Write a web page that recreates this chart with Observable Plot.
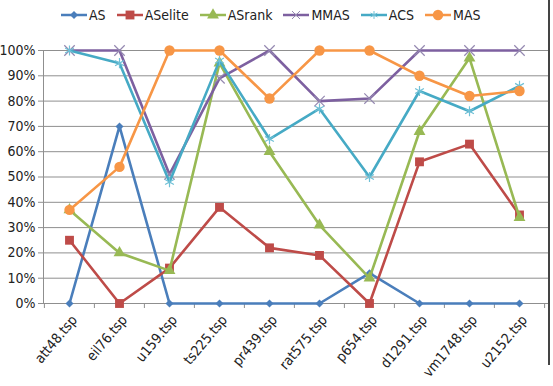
<!DOCTYPE html>
<html><head><meta charset="utf-8">
<script src="https://cdn.jsdelivr.net/npm/d3@7"></script>
<script src="https://cdn.jsdelivr.net/npm/@observablehq/plot@0.6"></script>
<style>
body{margin:0;background:#fff;}
#wrap{position:relative;width:553px;height:386px;overflow:hidden;background:#fff;font-family:"Liberation Sans Narrow","Arial Narrow","DejaVu Sans Condensed",sans-serif;}
#legend{height:30px;display:flex;align-items:center;padding-left:61px;font-size:14px;color:#222;box-sizing:border-box;}
.item{display:flex;align-items:center;margin-right:11px;}
.item svg{margin-right:2px;}
#border{position:absolute;left:548px;top:0;width:2px;height:365px;background:#444;}
</style></head><body>
<div id="wrap"><div id="legend"></div><div id="chart"></div><div id="border"></div></div>
<script>
const categories = ["att48.tsp","eil76.tsp","u159.tsp","ts225.tsp","pr439.tsp","rat575.tsp","p654.tsp","d1291.tsp","vm1748.tsp","u2152.tsp"];
const AS      = [0, 70, 0, 0, 0, 0, 12, 0, 0, 0];
const ASelite = [25, 0, 14, 38, 22, 19, 0, 56, 63, 35];
const ASrank  = [37, 20, 13, 95, 60, 31, 10, 68, 97, 34];
const MMAS    = [100, 100, 51, 89, 100, 80, 81, 100, 100, 100];
const ACS     = [100, 95, 48, 96, 65, 77, 50, 84, 76, 86];
const MAS     = [37, 54, 100, 100, 81, 100, 100, 90, 82, 84];
const seriesNames = ["AS","ASelite","ASrank","MMAS","ACS","MAS"];
const seriesValues = [AS, ASelite, ASrank, MMAS, ACS, MAS];
const lineColors = ["#4A7EBB","#BE4B48","#98B954","#7D60A0","#46AAC5","#F79646"];
const markColors = ["#4A7EBB","#BE4B48","#98B954","#9488B0","#6FC0D6","#F79646"];
const symbols = ["diamond2","square","triangle","times","asterisk","circle"];
const symbolR = [3.6, 5, 4.4, 4.8, 4.8, 5.2];
const strokeSymbols = ["times","asterisk"];
const yTicks = [0,0.1,0.2,0.3,0.4,0.5,0.6,0.7,0.8,0.9,1];

const W = 553, H = 356, mL = 43, mR = 8, mT = 20, mB = 83;
const half = (W - mL - mR) / categories.length / 2;

// legend
const legend = document.getElementById("legend");
seriesNames.forEach((name, j) => {
  const item = document.createElement("div");
  item.className = "item";
  const sym = d3.symbol(d3["symbol" + {diamond2:"Diamond2",square:"Square",triangle:"Triangle",times:"Times",asterisk:"Asterisk",circle:"Circle"}[symbols[j]]], Math.PI * symbolR[j] * symbolR[j] * (strokeSymbols.includes(symbols[j]) ? 0.6 : 1))();
  const stroke = strokeSymbols.includes(symbols[j]);
  item.innerHTML = `<svg width="26" height="14"><line x1="0" x2="26" y1="7" y2="7" stroke="${lineColors[j]}" stroke-width="2.5"/><path d="${sym}" transform="translate(13,7)" fill="${stroke ? "none" : markColors[j]}" stroke="${stroke ? markColors[j] : "none"}" stroke-width="1"/></svg><span>${name}</span>`;
  legend.appendChild(item);
});

const rows = [];
seriesNames.forEach((s, j) => categories.forEach((c, i) => rows.push({series: s, cat: c, value: seriesValues[j][i] / 100})));

const seriesMarks = seriesNames.flatMap((s, j) => {
  const d = rows.filter(r => r.series === s);
  const stroke = strokeSymbols.includes(symbols[j]);
  return [
    Plot.line(d, {x: "cat", y: "value", stroke: lineColors[j], strokeWidth: 2.6}),
    Plot.dot(d, {x: "cat", y: "value", symbol: () => symbols[j], r: symbolR[j],
      fill: stroke ? "none" : markColors[j], stroke: stroke ? markColors[j] : "none", strokeWidth: 1.2})
  ];
});

const chart = Plot.plot({
  width: W, height: H, marginLeft: mL, marginRight: mR, marginTop: mT, marginBottom: mB,
  style: {fontFamily: '"Liberation Sans Narrow","Arial Narrow","DejaVu Sans Condensed",sans-serif', fontSize: "14px", color: "#222", background: "#fff"},
  x: {type: "band", domain: categories, padding: 0, label: null},
  y: {domain: [0, 1], label: null},
  symbol: {type: "identity"},
  marks: [
    Plot.ruleY(yTicks, {stroke: "#8f8f8f", strokeWidth: 1, insetRight: -3}),
    Plot.frame({anchor: "left", stroke: "#8f8f8f"}),
    Plot.axisY({ticks: yTicks, tickFormat: d3.format(".0%"), tickSize: 5, tickPadding: 3, stroke: "#8f8f8f", label: null}),
    Plot.axisX({ticks: categories, tickSize: 5, tickFormat: () => "", dx: -half, stroke: "#8f8f8f", label: null}),
    Plot.axisX({ticks: categories.slice(-1), tickSize: 5, tickFormat: () => "", dx: half, stroke: "#8f8f8f", label: null}),
    Plot.axisX({ticks: categories, tickSize: 0, tickPadding: 14, tickRotate: -50, dx: 5, label: null}),
    ...seriesMarks
  ]
});
document.getElementById("chart").appendChild(chart);
</script>
</body></html>
